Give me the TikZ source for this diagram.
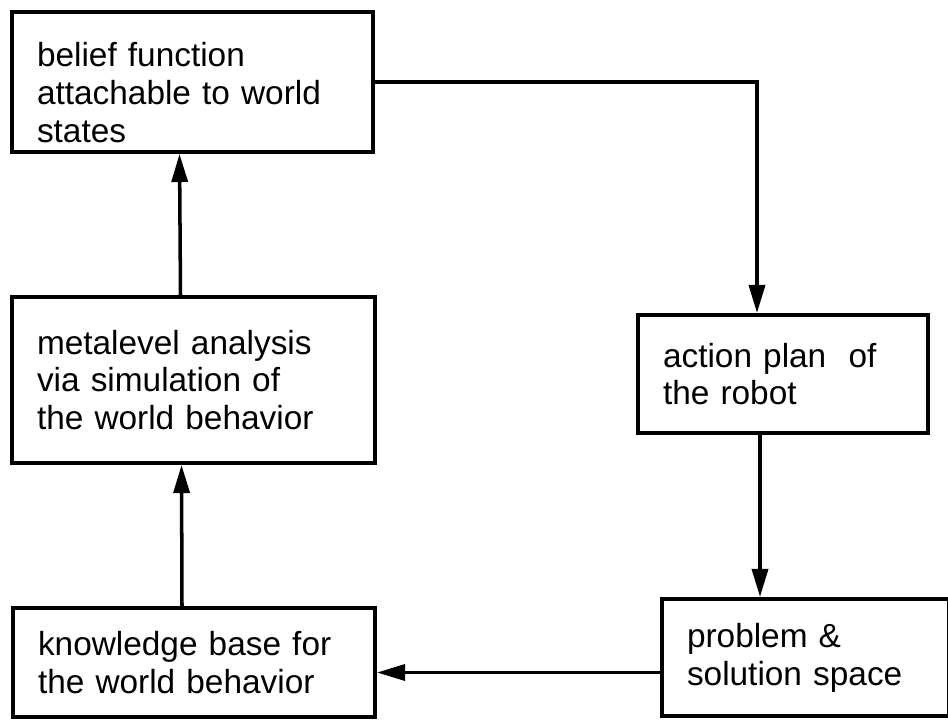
\documentclass[tikz,border=0pt]{standalone}
\usepackage{fontspec}
\setmainfont{Liberation Sans}
\usepackage{tikz}
\usetikzlibrary{arrows.meta}
\tikzset{
    every node/.style={rectangle, draw, line width=2.3pt, align=left,
    	inner xsep=0.5cm, font=\fontsize{19pt}{21.5pt}\selectfont}
}
\tikzset{
	flow/.style={line width=2pt, -{Triangle[length=0.56cm,width=0.32cm]}}
}

\begin{document}
\begin{tikzpicture}
	\useasboundingbox (0cm, 0cm) rectangle (18.96cm, -14.46cm);

	\node (1) [text width=6.22cm, minimum height=2.8cm] at (3.85cm, -1.64cm) {\rule{0pt}{0.9cm}belief function\\attachable to world\\states};
	\node (2) [text width=6.26cm, minimum height=3.32cm] at (3.87cm, -7.6cm) {metalevel analysis\\via simulation of\\the world behavior};
	\node (3) [text width=6.24cm, minimum height=2.18cm] at (3.88cm, -13.25cm) {knowledge base for\\the world behavior};
	\node (4) [text width=4.8cm, minimum height=2.36cm] at (15.66cm, -7.48cm) {action plan\ \ of\\the robot};
	\node (5) [text width=4.74cm, minimum height=2.34cm] at (16.11cm, -13.15cm) {problem \&\\solution space};

	\draw[flow] ([xshift=-0.26cm]2.north) -- ([xshift=-0.26cm]1.south);
	\draw[flow] ([xshift=-0.24cm]3.north) -- ([xshift=-0.24cm]2.south);

	\draw[flow] (1.east) -| ([xshift=-0.52cm]4.north);
	\draw[flow] ([xshift=-0.46cm]4.south) -- ([xshift=-0.46cm]4.south |- 5.north);
	\draw[flow] ([yshift=-0.3cm]5.west) -- ([yshift=-0.3cm]5.west -| 3.east);
\end{tikzpicture}
\end{document}
